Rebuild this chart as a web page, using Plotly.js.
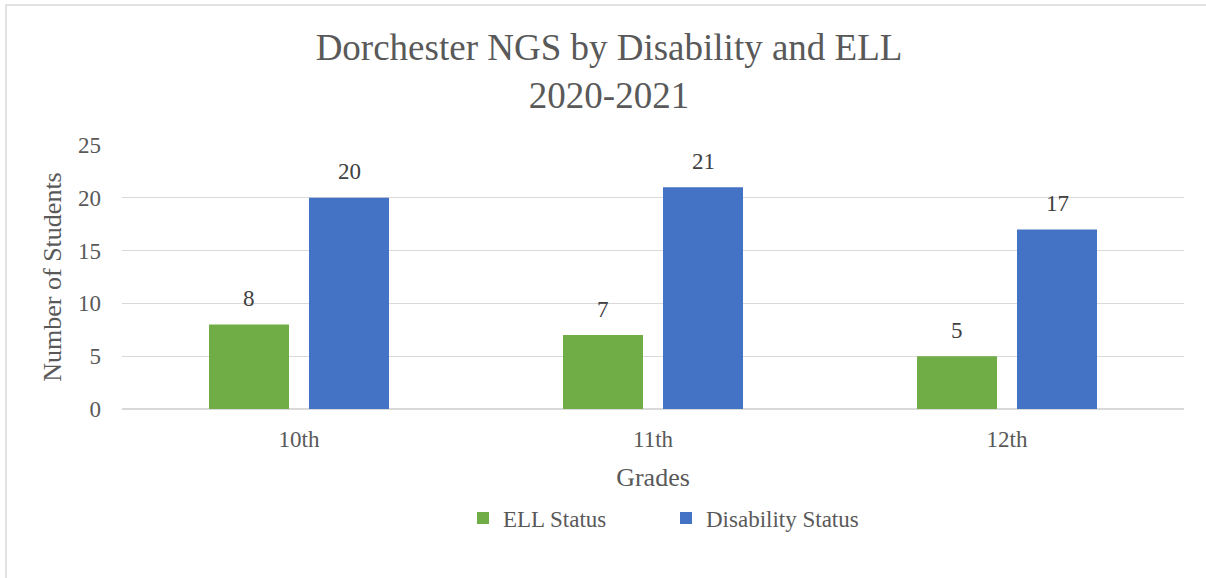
<!DOCTYPE html>
<html>
<head>
<meta charset="utf-8">
<script src="https://cdn.plot.ly/plotly-3.0.1.min.js"></script>
<style>html,body{margin:0;padding:0;background:#fff;}#chart{width:1206px;height:578px;}</style>
</head>
<body>
<div id="chart"></div>
<script>
const grades = ["10th", "11th", "12th"];
const ellStatus = [8, 7, 5];
const disabilityStatus = [20, 21, 17];
const yTicks = [0, 5, 10, 15, 20, 25];

const serif = "Liberation Serif";
const traces = [
  {type: "bar", name: "ELL Status", x: grades, y: ellStatus,
   marker: {color: "#70ad47"}, hoverinfo: "none"},
  {type: "bar", name: "Disability Status", x: grades, y: disabilityStatus,
   marker: {color: "#4472c4"}, hoverinfo: "none"}
];

const L = 122, R = 22, T = 145, B = 169, W = 1206, H = 578;
const pw = W - L - R, ph = H - T - B;

const annotations = [];
grades.forEach((g, i) => {
  annotations.push({x: g, y: ellStatus[i], text: String(ellStatus[i]), showarrow: false,
    xshift: -50, yshift: 26, yanchor: "middle", font: {family: serif, size: 23, color: "#404040"}});
  annotations.push({x: g, y: disabilityStatus[i], text: String(disabilityStatus[i]), showarrow: false,
    xshift: 50, yshift: 26, yanchor: "middle", font: {family: serif, size: 23, color: "#404040"}});
});

const layout = {
  width: W, height: H,
  margin: {l: L, r: R, t: T, b: B, pad: 0},
  paper_bgcolor: "#ffffff", plot_bgcolor: "#ffffff",
  font: {family: serif, color: "#595959", size: 23},
  title: {text: "Dorchester NGS by Disability and ELL<br>2020-2021",
          font: {family: serif, size: 37, color: "#595959"},
          x: 0.505, xref: "container", y: 1 - 60/H, yref: "container", yanchor: "top"},
  barmode: "group", bargap: 0.435, bargroupgap: 0.2,
  xaxis: {showgrid: false, zeroline: false, showline: false, ticks: "",
          tickfont: {family: serif, size: 23, color: "#595959"}, ticklabelstandoff: 14,
          title: {text: "Grades", font: {family: serif, size: 26, color: "#595959"}, standoff: 16}},
  yaxis: {range: [0, 25], tickvals: yTicks, showgrid: true, gridcolor: "#d9d9d9", gridwidth: 1.3,
          zeroline: true, zerolinecolor: "#d9d9d9", zerolinewidth: 1.5, showline: false, ticks: "",
          tickfont: {family: serif, size: 23, color: "#595959"}, ticklabelstandoff: 20,
          title: {text: "Number of Students", font: {family: serif, size: 26, color: "#595959"}, standoff: 8}},
  annotations: annotations,
  showlegend: true,
  legend: {orientation: "h", x: (666 - L) / pw, xanchor: "center", y: (409 - 518) / ph, yanchor: "middle",
           font: {family: serif, size: 23, color: "#595959"}, itemwidth: 30, traceorder: "normal",
           entrywidth: 158, entrywidthmode: "pixels"},
  shapes: [{type: "rect", xref: "paper", yref: "paper",
            x0: (6 - L) / pw, x1: (1230 - L) / pw, y0: (409 - 600) / ph, y1: (409 - 5) / ph,
            line: {color: "#d9d9d9", width: 1.5}, fillcolor: "rgba(0,0,0,0)", layer: "below"}]
};

Plotly.newPlot("chart", traces, layout, {displayModeBar: false, staticPlot: true});
</script>
</body>
</html>
